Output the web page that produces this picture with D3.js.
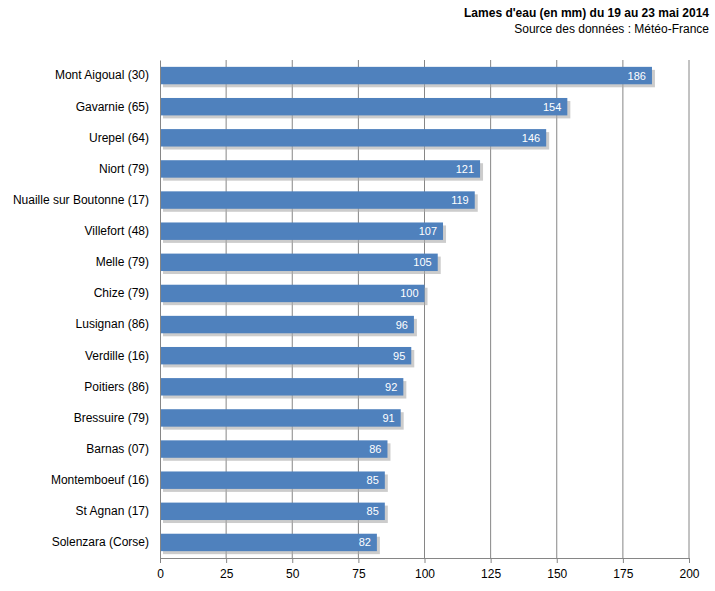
<!DOCTYPE html>
<html><head><meta charset="utf-8">
<script src="https://cdn.jsdelivr.net/npm/d3@7"></script>
<style>body{margin:0;background:#fff;font-family:"DejaVu Sans",sans-serif;}</style>
</head><body><svg id="c" width="715" height="591"></svg>
<script>
const categories=["Mont Aigoual (30)","Gavarnie (65)","Urepel (64)","Niort (79)","Nuaille sur Boutonne (17)","Villefort (48)","Melle (79)","Chize (79)","Lusignan (86)","Verdille (16)","Poitiers (86)","Bressuire (79)","Barnas (07)","Montemboeuf (16)","St Agnan (17)","Solenzara (Corse)"];
const values=[186,154,146,121,119,107,105,100,96,95,92,91,86,85,85,82];
const ticks=[0,25,50,75,100,125,150,175,200];
const svg=d3.select("#c");
const x=d3.scaleLinear().domain([0,200]).range([160,689]);
const y=d3.scaleBand().domain(categories).range([60,558]).paddingInner(0.44).paddingOuter(0.22);
svg.append("g").selectAll("line").data(ticks.slice(1)).join("line")
 .attr("x1",d=>x(d)).attr("x2",d=>x(d)).attr("y1",60).attr("y2",558).attr("stroke","#868686");
svg.append("g").selectAll("rect").data(values).join("rect")
 .attr("x",x(0)+3).attr("y",(d,i)=>y(categories[i])+3).attr("width",d=>x(d)-x(0)).attr("height",y.bandwidth()).attr("fill","#aaa").attr("opacity",0.6);
svg.append("g").selectAll("rect").data(values).join("rect")
 .attr("x",x(0)).attr("y",(d,i)=>y(categories[i])).attr("width",d=>x(d)-x(0)).attr("height",y.bandwidth()).attr("fill","#4F81BD");
svg.append("g").selectAll("text").data(values).join("text")
 .attr("x",d=>x(d)-6).attr("y",(d,i)=>y(categories[i])+y.bandwidth()/2+4).attr("text-anchor","end")
 .attr("fill","#fff").style("font-family","Liberation Sans, Arial").attr("font-size",11).text(d=>d);
const ax=svg.append("g").attr("transform","translate(0,558)").call(d3.axisBottom(x).tickValues(ticks).tickSize(5).tickSizeOuter(0));
ax.select(".domain").attr("stroke","#868686");
ax.selectAll(".tick line").attr("stroke","#868686");
ax.selectAll("text").attr("font-size",12).style("font-family","Liberation Sans, Arial").attr("fill","#000").attr("dy","1em");
const ay=svg.append("g").attr("transform","translate(160,0)").call(d3.axisLeft(y).tickSize(5).tickSizeOuter(0));
ay.select(".domain").attr("stroke","#868686");
ay.selectAll(".tick line").remove();
ay.selectAll("text").attr("font-size",12).style("font-family","Liberation Sans, Arial").attr("fill","#000").attr("x",-11);
svg.append("text").attr("x",709).attr("y",17).attr("text-anchor","end").attr("font-size",12).attr("font-weight","bold").style("font-family","Liberation Sans, Arial").text("Lames d'eau (en mm) du 19 au 23 mai 2014");
svg.append("text").attr("x",709).attr("y",33).attr("text-anchor","end").attr("font-size",12).style("font-family","Liberation Sans, Arial").text("Source des données : Météo-France");
</script></body></html>
